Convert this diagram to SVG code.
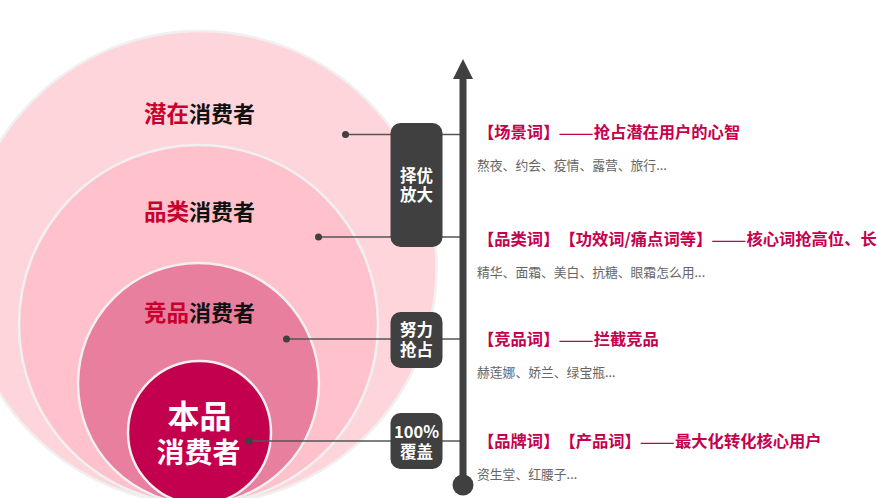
<svg xmlns="http://www.w3.org/2000/svg" width="877" height="498" viewBox="0 0 877 498">
<style>
text{font-family:"Noto Sans CJK SC","Liberation Sans",sans-serif;text-spacing-trim:space-all;font-feature-settings:"palt" 0,"chws" 0}
.ring{stroke:#f0f0f0;stroke-width:2.5}
.lab{font-size:22px;font-weight:700;fill:#111;text-anchor:middle}
.lab tspan{fill:#c8002d;font-size:22.5px}
.box{fill:#404040}
.bt{font-size:16.5px;font-weight:700;fill:#fff;text-anchor:middle}
.tt{font-size:16.3px;font-weight:700;fill:#c5004c}
.d{font-size:21px;font-weight:400}
.st{font-size:12.8px;fill:#666}
.ln{stroke:#555;stroke-width:1.300;fill:none}
.dot{fill:#404040}
</style>
<rect width="877" height="498" fill="#fff"/>
<g id="ring-potential"><circle class="ring" cx="200" cy="267.500" r="236.500" fill="#ffd5dc"/><text class="lab" x="199.500" y="122"><tspan>潜在</tspan>消费者</text></g>
<g id="ring-category"><circle class="ring" cx="198.500" cy="324.500" r="179.500" fill="#ffc1cc"/><text class="lab" x="199.500" y="219.500"><tspan>品类</tspan>消费者</text></g>
<g id="ring-competitor"><circle class="ring" cx="198.500" cy="383.500" r="120.500" fill="#e87f9e"/><text class="lab" x="199.500" y="320.500"><tspan>竞品</tspan>消费者</text></g>
<g id="ring-own"><circle class="ring" cx="199.500" cy="432.500" r="71.500" fill="#c2004e"/><text x="199.500" y="428" font-size="32" font-weight="700" fill="#fff" text-anchor="middle">本品</text><text x="198.500" y="463" font-size="28" font-weight="700" fill="#fff" text-anchor="middle">消费者</text></g>
<g id="connectors">
<path class="ln" d="M345.500 134.500H460M318.500 237H460M286.500 339H460M249 441H460"/>
<circle class="dot" cx="345.500" cy="134.500" r="3.500"/><circle class="dot" cx="318.500" cy="237" r="3.500"/><circle class="dot" cx="286.500" cy="339" r="3.500"/><circle class="dot" cx="249" cy="441" r="3.500"/>
</g>
<g id="axis"><rect x="459.500" y="75" width="7" height="410" fill="#404040"/><path d="M453 79L463 59L473 79Z" fill="#404040"/><circle cx="463" cy="485" r="10.500" fill="#404040"/></g>
<g id="box-1"><rect class="box" x="390.500" y="123" width="52" height="124" rx="10"/><text class="bt" x="416.500" y="182">择优</text><text class="bt" x="416.500" y="201">放大</text></g>
<g id="box-2"><rect class="box" x="390.500" y="312" width="52" height="56" rx="10"/><text class="bt" x="416.500" y="336">努力</text><text class="bt" x="416.500" y="356">抢占</text></g>
<g id="box-3"><rect class="box" x="390.500" y="413" width="52" height="56" rx="10"/><text class="bt" x="416.500" y="438" font-size="16">100%</text><text class="bt" x="416.500" y="458">覆盖</text></g>
<g id="item-1"><text class="tt" x="478" y="138">【场景词】<tspan class="d" dx="-1" dy="2">——</tspan><tspan dy="-2">抢占潜在用户的心智</tspan></text><text class="st" x="477" y="170">熬夜、约会、疫情、露营、旅行...</text></g>
<g id="item-2"><text class="tt" x="478" y="245">【品类词】【功效词/痛点词等】<tspan class="d" dx="-1" dy="2">——</tspan><tspan dy="-2">核心词抢高位、长</tspan></text><text class="st" x="477" y="277">精华、面霜、美白、抗糖、眼霜怎么用...</text></g>
<g id="item-3"><text class="tt" x="478" y="345">【竞品词】<tspan class="d" dx="-1" dy="2">——</tspan><tspan dy="-2">拦截竞品</tspan></text><text class="st" x="477" y="377">赫莲娜、娇兰、绿宝瓶...</text></g>
<g id="item-4"><text class="tt" x="478" y="447">【品牌词】【产品词】<tspan class="d" dx="-1" dy="2">——</tspan><tspan dy="-2">最大化转化核心用户</tspan></text><text class="st" x="477" y="479">资生堂、红腰子...</text></g>
</svg>
